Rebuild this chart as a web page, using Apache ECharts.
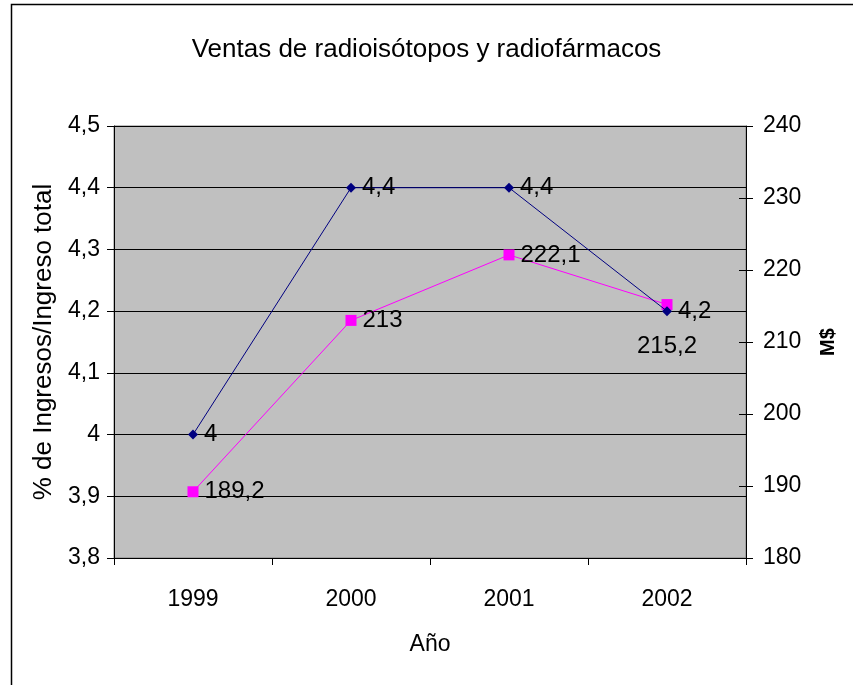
<!DOCTYPE html>
<html>
<head>
<meta charset="utf-8">
<script src="https://cdn.jsdelivr.net/npm/echarts@6/dist/echarts.min.js"></script>
<style>
  html, body { margin: 0; padding: 0; background: #fff; }
  #chart { width: 853px; height: 685px; }
</style>
</head>
<body>
<div id="chart"></div>
<script>
  // datos
  var years = ['1999', '2000', '2001', '2002'];
  var porcentaje = [4, 4.4, 4.4, 4.2];
  var ventasMS = [189.2, 213, 222.1, 215.2];
  var leftTicks = [3.8, 4.5, 0.1];   // min, max, interval
  var rightTicks = [180, 240, 10];

  var fnt = '"Liberation Sans", Arial, sans-serif';
  function coma(v) {
    return String(Math.round(v * 10) / 10).replace('.', ',');
  }

  var myChart = echarts.init(document.getElementById('chart'));
  var option = {
    backgroundColor: '#fff',
    animation: false,
    title: {
      text: 'Ventas de radioisótopos y radiofármacos',
      left: 'center',
      top: 32,
      textStyle: { fontFamily: fnt, fontSize: 26, fontWeight: 'normal', color: '#000' }
    },
    graphic: [{
      type: 'rect',
      shape: { x: 11.5, y: 4.5, width: 900, height: 700 },
      style: { fill: 'none', stroke: '#000', lineWidth: 1.5 },
      silent: true
    }],
    grid: {
      left: 114, right: 107, top: 126, bottom: 127,
      show: true,
      backgroundColor: '#c0c0c0',
      borderColor: '#808080',
      borderWidth: 1
    },
    xAxis: {
      type: 'category',
      data: years,
      boundaryGap: true,
      name: 'Año',
      nameLocation: 'middle',
      nameGap: 75,
      nameTextStyle: { fontFamily: fnt, fontSize: 23, color: '#000' },
      axisLine: { lineStyle: { color: '#000', width: 1 } },
      axisTick: { show: true, length: 7, lineStyle: { color: '#000' } },
      axisLabel: { fontFamily: fnt, fontSize: 23, color: '#000', margin: 30 },
      splitLine: { show: false }
    },
    yAxis: [{
      type: 'value',
      min: leftTicks[0], max: leftTicks[1], interval: leftTicks[2],
      position: 'left',
      name: '% de Ingresos/Ingreso total',
      nameLocation: 'middle',
      nameGap: 57,
      nameTextStyle: { fontFamily: fnt, fontSize: 26, color: '#000' },
      axisLine: { show: true, lineStyle: { color: '#000', width: 1 } },
      axisTick: { show: true, length: 7, lineStyle: { color: '#000' } },
      axisLabel: { fontFamily: fnt, fontSize: 23, color: '#000', margin: 14, formatter: coma },
      splitLine: { show: true, lineStyle: { color: '#000', width: 1 } }
    }, {
      type: 'value',
      min: rightTicks[0], max: rightTicks[1], interval: rightTicks[2],
      position: 'right',
      name: 'M$',
      nameLocation: 'middle',
      nameGap: 72,
      nameRotate: 90,
      nameTextStyle: { fontFamily: fnt, fontSize: 20, fontWeight: 'bold', color: '#000' },
      axisLine: { show: true, lineStyle: { color: '#000', width: 1 } },
      axisTick: { show: true, length: 7, lineStyle: { color: '#000' } },
      axisLabel: { fontFamily: fnt, fontSize: 23, color: '#000', margin: 17 },
      splitLine: { show: false }
    }, {
      // marcas interiores del eje derecho (para que crucen el eje)
      type: 'value',
      min: rightTicks[0], max: rightTicks[1], interval: rightTicks[2],
      position: 'right',
      axisLine: { show: false },
      axisTick: { show: true, inside: true, length: 7, lineStyle: { color: '#000' } },
      axisLabel: { show: false },
      splitLine: { show: false }
    }],
    series: [{
      name: '%',
      type: 'line',
      yAxisIndex: 0,
      data: porcentaje,
      symbol: 'diamond',
      symbolSize: 10,
      z: 3,
      lineStyle: { color: '#000080', width: 1 },
      itemStyle: { color: '#000080' },
      label: {
        show: true, position: 'right', distance: 6,
        fontFamily: fnt, fontSize: 24, color: '#000',
        formatter: function (p) { return coma(p.value); }
      }
    }, {
      name: 'M$',
      type: 'line',
      yAxisIndex: 1,
      data: ventasMS.map(function (v, i) {
        if (i === 3) {
          return { value: v, label: { position: 'bottom', distance: 24 } };
        }
        return v;
      }),
      symbol: 'rect',
      symbolSize: 11,
      z: 2,
      lineStyle: { color: '#ff00ff', width: 1 },
      itemStyle: { color: '#ff00ff' },
      label: {
        show: true, position: 'right', distance: 6,
        fontFamily: fnt, fontSize: 24, color: '#000',
        formatter: function (p) { return coma(p.value); }
      }
    }]
  };
  myChart.setOption(option);
</script>
</body>
</html>
